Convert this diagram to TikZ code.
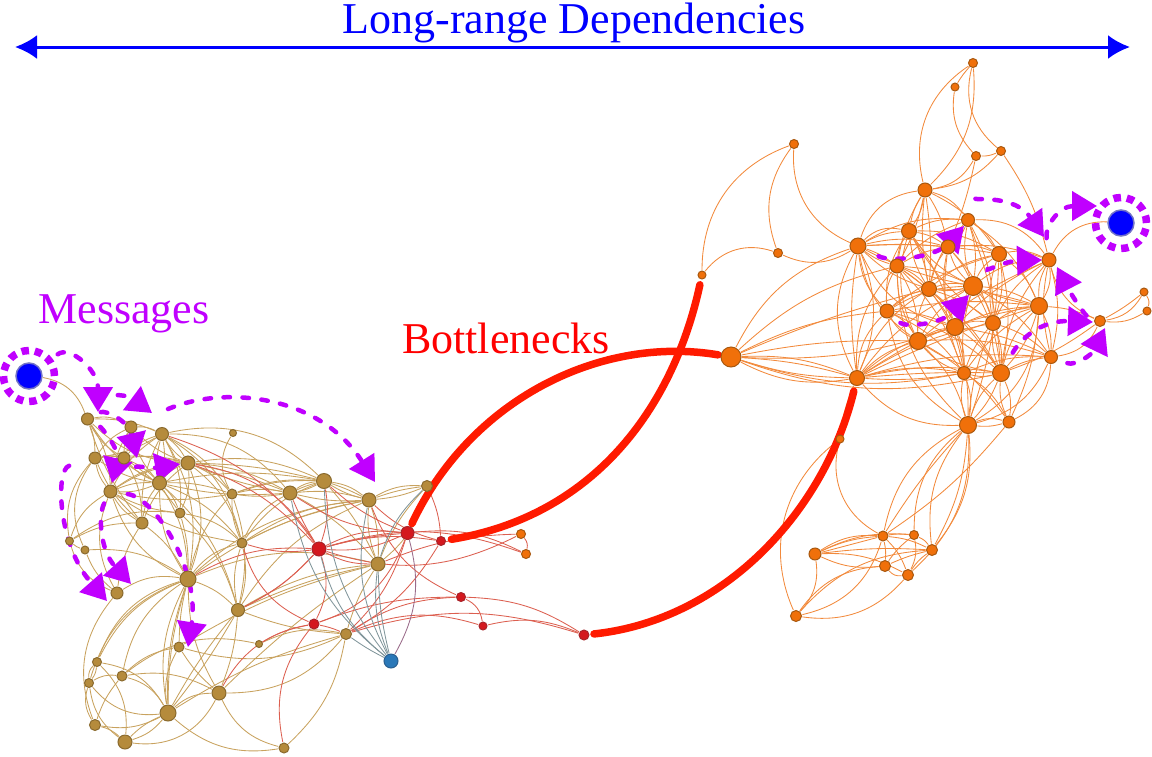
\documentclass[tikz,border=0pt]{standalone}
\usepackage{fontspec}
\setmainfont{Liberation Serif}
\usetikzlibrary{arrows.meta}
\definecolor{brownN}{HTML}{B58B3C}\definecolor{brownD}{HTML}{8A6A2E}
\definecolor{orangeN}{HTML}{F0700A}\definecolor{orangeD}{HTML}{A8580F}
\definecolor{redN}{HTML}{D4181E}\definecolor{redD}{HTML}{A8242A}
\definecolor{blueN}{HTML}{2A78B8}\definecolor{blueD}{HTML}{2A5F8F}
\definecolor{brownE}{HTML}{C8A25E}\definecolor{orangeE}{HTML}{F28A3C}
\definecolor{redE}{HTML}{DC5F50}\definecolor{grayE}{HTML}{80959A}\definecolor{plumE}{HTML}{9A6B8A}
\definecolor{msgC}{HTML}{C000FF}\definecolor{hot}{HTML}{FF1A00}
\pgfdeclarelayer{annot}\pgfdeclarelayer{edges}\pgfsetlayers{edges,annot,main}
\tikzset{
 gnode/.style={circle,inner sep=0pt,outer sep=1pt,line width=1pt},
 brownnode/.style={gnode,fill=brownN,draw=brownD},
 orangenode/.style={gnode,fill=orangeN,draw=orangeD},
 rednode/.style={gnode,fill=redN,draw=redD},
 bluenode/.style={gnode,fill=blueN,draw=blueD},
 endnode/.style={circle,inner sep=0pt,outer sep=1pt,minimum size=26pt,fill=blue,draw=black!40!blue!55!white,line width=1.5pt},
 ring/.style={draw=msgC,line width=7.5pt,dash pattern=on 7.5pt off 5.85pt},
 edgeB/.style={draw=brownE,line width=.85pt},
 edgeO/.style={draw=orangeE,line width=.85pt},
 edgeR/.style={draw=redE,line width=.85pt},
 edgeG/.style={draw=grayE,line width=.85pt},
 edgeP/.style={draw=plumE,line width=.85pt},
 msg/.style={draw=msgC,line width=4.5pt,line cap=round,dash pattern=on 6.5pt off 12.5pt,-{Triangle[length=25pt,width=29pt,fill=msgC]}},
 hotline/.style={draw=hot,line width=7.5pt,line cap=round},
 bigtext/.style={font=\fontsize{44}{44}\selectfont,inner sep=0pt,anchor=base},
}
\begin{document}
\begin{tikzpicture}[x=1pt,y=-1pt]
\useasboundingbox (0,0) rectangle (1152,756);
% nodes
\foreach \n/\x/\y/\r in {b1/87.5/419/6,b2/131/427/6,b3/162/434/6.5,b4/95/458/6,b5/124/458/6,b6/188/463/7,b7/110.5/491.5/6.5,b8/159.5/483/7,b9/233/433/3.5,b10/232/494/5,b11/290/493/7,b12/142/523/6,b13/180/513/5,b14/69.5/541/4,b15/85/550/4,b16/242/543/5,b17/117/593/6,b18/188/579/8,b19/238/610/6.5,b20/324/481/7.5,b21/369/500/7,b22/378/564/7,b23/427/486/5.5,b24/346/634/5.5,b25/259/644/3.5,b26/179/647/5,b27/97/662/4.5,b28/122/676/5,b29/89/683/4.5,b30/219/693/7,b31/168/713/8,b32/95/725/5.5,b33/125/742/7,b34/284/748/5}
  \node[brownnode,minimum size=2*\r pt] (\n) at (\x,\y) {};
\foreach \n/\x/\y/\r in {r1/319/549/7,r2/407.5/533/6.5,r3/441/541/4.5,r4/314/624/5,r5/461/597/4.5,r6/483/626/4,r7/584/635/5}
  \node[rednode,minimum size=2*\r pt] (\n) at (\x,\y) {};
\node[bluenode,minimum size=14pt] (t1) at (391,661) {};
\foreach \n/\x/\y/\r in {o1/521/534/4.5,o2/526/554/4.5,c1/925/190/7,c2/858/246/8,c3/909/231/7.5,c4/948/247/7,c5/968/220/6.5,c6/897/266/7,c7/999/254/7.5,c8/1049/260/7,c9/929/289/7.5,c10/973/286/9.5,c11/887/311/7,c12/955/327/8.5,c13/993/323/7.5,c14/1039/306/8.5,c15/918/341/8.5,c16/964/373/6.5,c17/1001/373/8.5,c18/1051/357/6.5,c19/857/378/7.5,c20/1100/321/5.5,c21/1144/292/4,c22/1147/311/4,c23/968/425/8.5,c24/1009/422/6,c25/731/357/10,c26/702/275/4,c27/778/253/4.5,c28/794/144/4.5,c29/973/63/4.5,c30/955/87/4,c31/976/156/4.5,c32/1001/151/4.5,c33/840/439/4,c34/883/536/5,c35/914/535/4.5,c36/932/550/5.5,c37/815/554/6,c38/885/566/5.5,c39/908/575/5.5,c40/796/616/5.5}
  \node[orangenode,minimum size=2*\r pt] (\n) at (\x,\y) {};
\node[endnode] (S1) at (29,376) {};
\node[endnode] (S2) at (1121,223) {};
\node[circle,minimum size=51pt,inner sep=0pt,ring] (R1) at (29,376) {};
\node[circle,minimum size=51pt,inner sep=0pt,ring] (R2) at (1121,223) {};
% labels
\node[bigtext,text=blue] (tLong) at (574,33) {Long-range Dependencies};
\node[bigtext,text=msgC] (tMsg) at (124,323) {Messages};
\node[bigtext,text=red] (tBot) at (506,353) {Bottlenecks};
\coordinate (aL) at (15,47); \coordinate (aR) at (1130,47);
\begin{pgfonlayer}{annot}
\draw[draw=blue,line width=3pt,{Latex[length=22pt,width=24pt]}-{Latex[length=22pt,width=24pt]}] (aL) -- (aR);
\draw[hotline,shorten <=3pt,shorten >=2pt] (r2) .. controls (470,400) and (600,335) .. (c25);
\draw[hotline,shorten <=5pt,shorten >=5pt] (r3) .. controls (600,515) and (675,400) .. (c26);
\draw[hotline,shorten <=4pt,shorten >=5pt] (r7) .. controls (725,620) and (825,510) .. (c19);
\coordinate (tA) at (98,412); \coordinate (tB) at (152,413); \coordinate (sC) at (168,409); \coordinate (tC) at (375,482);
\coordinate (tD) at (112,483); \coordinate (tE) at (137,458); \coordinate (tF) at (180,464); \coordinate (tG) at (188,647);
\coordinate (tH) at (131,584); \coordinate (tI) at (107,601);
\coordinate (tJ) at (964,226); \coordinate (tK) at (1042,260); \coordinate (tL) at (1044,237); \coordinate (tM) at (1097,206);
\coordinate (tN) at (1057,267); \coordinate (tO) at (1093,322); \coordinate (tP) at (1105,328); \coordinate (tQ) at (969,295);
\draw[msg,shorten <=22pt] (S1) .. controls (70,345) and (98,370) .. (tA);
\draw[msg,shorten <=18pt] (b1) .. controls (100,395) and (125,393) .. (tB);
\draw[msg] (sC) .. controls (225,385) and (320,395) .. (tC);
\draw[msg,shorten <=8pt] (b1) .. controls (102,428) and (120,450) .. (tD);
\draw[msg,shorten <=8pt] (b1) .. controls (105,410) and (128,420) .. (tE);
\draw[msg,shorten <=8pt] (b5) .. controls (135,466) and (155,468) .. (tF);
\draw[msg,shorten <=10pt] (b7) .. controls (155,498) and (200,570) .. (tG);
\draw[msg,shorten <=6pt] (b7) .. controls (98,515) and (100,550) .. (tH);
\draw[msg,shorten <=20pt] (b4) .. controls (55,470) and (58,545) .. (tI);
\draw[msg,shorten <=14pt] (c2) .. controls (890,262) and (935,258) .. (tJ);
\draw[msg,shorten <=12pt] (c10) .. controls (985,272) and (1005,261) .. (tK);
\draw[msg,shorten <=15pt] (c5) .. controls (975,200) and (1015,195) .. (tL);
\draw[msg,shorten <=14pt] (c8) .. controls (1045,225) and (1060,206) .. (tM);
\draw[msg,shorten <=8pt] (c20) .. controls (1085,315) and (1072,296) .. (tN);
\draw[msg,shorten <=14pt] (c17) .. controls (1020,340) and (1040,320) .. (tO);
\draw[msg,shorten <=10pt] (c18) .. controls (1075,366) and (1092,355) .. (tP);
\draw[msg,shorten <=10pt] (c11) .. controls (905,327) and (940,325) .. (tQ);
\end{pgfonlayer}
\begin{pgfonlayer}{edges}
% outer orange
\foreach \a/\b/\c in {S2/c8/32,c26/c28/-35,c26/c27/-35,c28/c27/28,c28/c2/35,c27/c2/28,c2/c1/-32,c29/c1/35,c29/c1/-25,c29/c32/32,c30/c31/25,c29/c30/5,c31/c1/-25,c32/c1/-20,c31/c32/12,c31/c4/-5,c32/c8/-10,c8/c20/25,c14/c20/-10,c18/c20/28,c17/c20/8,c20/c21/25,c20/c22/18,c21/c22/-25,c21/c20/-5,c18/c24/-30,c5/c8/-28,c19/c23/25,c19/c33/8,c33/c34/38,c33/c40/38,c11/c23/25,c6/c23/22,c7/c23/-8,c14/c23/-28,c18/c23/-25,c23/c24/-18,c23/c24/10,c24/c14/10,
c23/c34/25,c23/c35/25,c24/c34/-8,c23/c36/22,c23/c36/-22,c23/c39/-25,c23/c36/-12,c23/c34/5,
c37/c34/-18,c37/c34/-10,c37/c35/-15,c37/c36/-5,c37/c34/0,c37/c38/15,c37/c39/-15,c40/c37/25,c40/c34/30,c40/c39/28,c40/c38/-25,c40/c36/-22,c34/c39/-12,c34/c38/-8,c34/c36/-10,c35/c38/8,c35/c36/-15,c35/c39/-18,c38/c39/28,c36/c38/5,c36/c39/10,c34/c35/-8,
% c25 fan
c25/c19/18,c25/c19/8,c25/c19/-6,c25/c15/-6,c25/c11/-10,c25/c6/-14,c25/c2/-22,c25/c12/10,c25/c9/-4,c25/c16/14,c25/c17/16,c25/c19/-12,
% core
c1/c3/10,c1/c3/-12,c1/c6/10,c1/c6/-8,c1/c4/-10,c1/c9/-6,c1/c9/8,c1/c5/-18,c1/c7/-14,
c2/c3/-12,c2/c3/-28,c2/c4/-14,c2/c4/-4,c2/c5/-18,c2/c6/-8,c2/c6/10,c2/c7/-6,c2/c9/12,c2/c10/8,c2/c11/18,c2/c15/22,c2/c19/28,c2/c19/-22,c2/c19/8,c2/c12/25,
c3/c4/-12,c3/c5/-14,c3/c6/14,c3/c9/-10,c3/c9/12,c3/c10/14,c3/c12/-10,c3/c7/-15,c3/c11/18,c3/c15/20,c3/c13/12,
c4/c5/14,c4/c7/-14,c4/c8/-12,c4/c9/12,c4/c10/-8,c4/c10/14,c4/c12/16,c4/c13/-12,c4/c16/14,c4/c6/10,
c5/c7/-14,c5/c10/-12,c5/c10/14,c5/c13/-14,c5/c14/-16,c5/c6/12,c5/c9/14,c5/c17/-8,
c6/c9/-12,c6/c10/-10,c6/c11/16,c6/c15/14,c6/c15/-14,c6/c12/-12,c6/c19/22,c6/c16/-12,c6/c17/-10,
c7/c8/-18,c7/c10/14,c7/c13/-14,c7/c13/14,c7/c14/-15,c7/c17/-12,c7/c9/14,c7/c11/10,
c8/c14/-18,c8/c14/14,c8/c10/18,c8/c13/14,c8/c18/-14,c8/c18/12,c8/c17/16,c8/c12/10,c8/c15/8,
c9/c10/-14,c9/c10/10,c9/c11/14,c9/c12/-12,c9/c15/14,c9/c13/-10,c9/c19/18,c9/c16/-12,c9/c17/-10,c9/c14/-8,
c10/c12/12,c10/c13/-12,c10/c14/-12,c10/c14/6,c10/c15/14,c10/c16/10,c10/c17/-10,c10/c18/-12,c10/c19/14,c10/c11/14,c10/c12/-10,
c11/c12/-10,c11/c15/16,c11/c15/-16,c11/c19/20,c11/c16/-14,c11/c17/-12,c11/c14/-8,
c12/c13/-14,c12/c14/-10,c12/c15/12,c12/c16/-12,c12/c17/-10,c12/c19/12,c12/c23/-8,c12/c18/-8,
c13/c14/-14,c13/c17/12,c13/c17/-12,c13/c16/10,c13/c23/8,c13/c18/-12,c13/c19/10,
c14/c17/14,c14/c17/-12,c14/c18/-14,c14/c16/12,c14/c19/12,c14/c19/4,
c15/c16/14,c15/c17/12,c15/c19/14,c15/c23/-15,c15/c24/-12,c15/c18/-10,
c16/c17/14,c16/c23/14,c16/c23/-14,c16/c24/-14,c16/c19/12,c16/c19/-6,
c17/c18/-10,c17/c23/14,c17/c23/-10,c17/c24/14,c17/c24/-16,c17/c19/10,c17/c19/3,
c18/c19/10,c18/c16/12}
  \draw[edgeO] (\a) to[bend right=\c] (\b);
% left brown
\foreach \a/\b/\c in {S1/b1/-30,b1/b2/-20,b1/b3/-12,b1/b5/15,b1/b4/-10,b1/b7/-15,b1/b8/15,b1/b6/20,b1/b12/10,
b2/b3/-14,b2/b5/12,b2/b4/14,b2/b6/12,b2/b8/14,b2/b7/12,
b3/b5/14,b3/b6/-12,b3/b6/10,b3/b7/14,b3/b8/-12,b3/b8/12,b3/b10/-14,b3/b11/-25,b3/b12/14,b3/b4/-10,b3/b13/-16,b3/b16/-22,b3/b20/-28,b3/b18/-20,
b4/b5/-12,b4/b6/-8,b4/b7/14,b4/b8/12,b4/b12/12,b4/b15/30,b4/b14/25,
b5/b6/-10,b5/b7/12,b5/b8/12,b5/b8/-10,b5/b12/-14,b5/b13/-10,
b6/b7/12,b6/b8/14,b6/b10/-12,b6/b11/-12,b6/b11/-5,b6/b11/6,b6/b12/14,b6/b13/-14,b6/b20/-16,b6/b20/-6,b6/b16/-18,b6/b18/-20,
b7/b8/-12,b7/b8/12,b7/b12/14,b7/b13/10,b7/b10/10,b7/b17/25,b7/b14/20,b7/b18/22,b7/b6/-15,b7/b16/12,
b8/b12/14,b8/b10/-10,b8/b13/-12,b8/b11/8,b8/b16/-14,b8/b18/-14,b8/b18/16,b8/b19/-16,b8/b20/-10,
b9/b10/30,b10/b11/-12,b10/b11/8,b10/b16/12,b10/b19/-15,b10/b18/14,b10/b20/-10,
b11/b20/-14,b11/b20/-5,b11/b20/8,b11/b21/-10,b11/b21/8,b11/b22/-10,b11/b16/18,
b20/b21/-14,b20/b21/-4,b20/b21/8,b20/b22/-8,b20/b10/12,b20/b16/16,
b21/b23/-16,b21/b23/-6,b21/b23/8,b21/b22/12,b21/b22/-10,b21/b16/14,b21/b18/12,
b14/b15/10,b14/b17/25,b15/b17/14,b14/b13/-20,b14/b12/-14,b15/b18/-18,b12/b18/-12,b12/b17/12,b13/b18/-8,b13/b19/-14,b13/b16/-16,b16/b19/-14,b16/b19/14,b16/b18/18,b18/b19/-12,b18/b22/-18,b18/b21/-18,b19/b22/-12,b19/b21/-16,b19/b22/-6,b18/b17/20,b16/b21/-8,b23/b22/10,b23/b22/-18,
b18/b27/26,b18/b27/20,b18/b29/26,b18/b28/22,b17/b32/30,b27/b29/24,b27/b29/-15,b29/b32/24,b27/b31/-25,b28/b26/-16,b28/b30/-18,b28/b31/-22,b29/b28/-18,b29/b31/28,b29/b33/22,b27/b33/-25,b28/b32/10,b32/b33/-14,b32/b31/18,b33/b31/16,b33/b31/-10,b33/b30/35,b30/b31/20,b31/b34/25,b30/b34/25,b26/b31/18,b26/b30/8,b18/b31/18,b18/b31/10,b18/b30/14,b18/b26/6,b31/b19/4,b31/b19/-5,b31/b18/-8,b26/b24/20,b30/b24/25,b28/b25/-25,b25/b24/-18,b30/b19/8,b30/b22/-5,b26/b22/-8,b19/b24/8,b24/b22/-8,b24/b34/-18,b24/b31/8}
  \draw[edgeB] (\a) to[bend right=\c] (\b);
% red
\foreach \a/\b/\c in {r7/r5/15,r7/b24/17,r7/r6/18,r6/b24/20,r5/r6/-28,r5/b24/15,r5/r4/10,r5/b21/-22,r3/b24/-14,r2/r4/-25,r2/r1/16,r2/r1/-14,r2/r1/5,r1/r3/-12,r1/b22/14,r1/o1/22,r1/o2/-18,r2/o2/-16,b22/o1/-10,o1/o2/-25,r1/r4/-22,r1/b19/-10,r4/b16/-25,r4/b24/-6,r4/b25/10,r4/b34/25,r4/b30/25,b24/r2/14,b11/r2/14,b20/r2/10,b6/r1/-14,b6/r1/-24,b3/r1/-18,b11/r1/4,b20/r1/-14,b21/r3/14,b16/r1/12,b19/r1/10,b18/r1/-16,b23/r3/-10}
  \draw[edgeR] (\a) to[bend right=\c] (\b);
\foreach \a/\b/\c in {t1/b11/-20,t1/b20/-18,t1/b21/-20,t1/b22/-14,t1/b22/-6,t1/r1/-18,t1/b24/-4,b23/b22/14}
  \draw[edgeG] (\a) to[bend right=\c] (\b);
\draw[edgeP] (t1) to[bend right=22] (r2);
\end{pgfonlayer}
\end{tikzpicture}
\end{document}
